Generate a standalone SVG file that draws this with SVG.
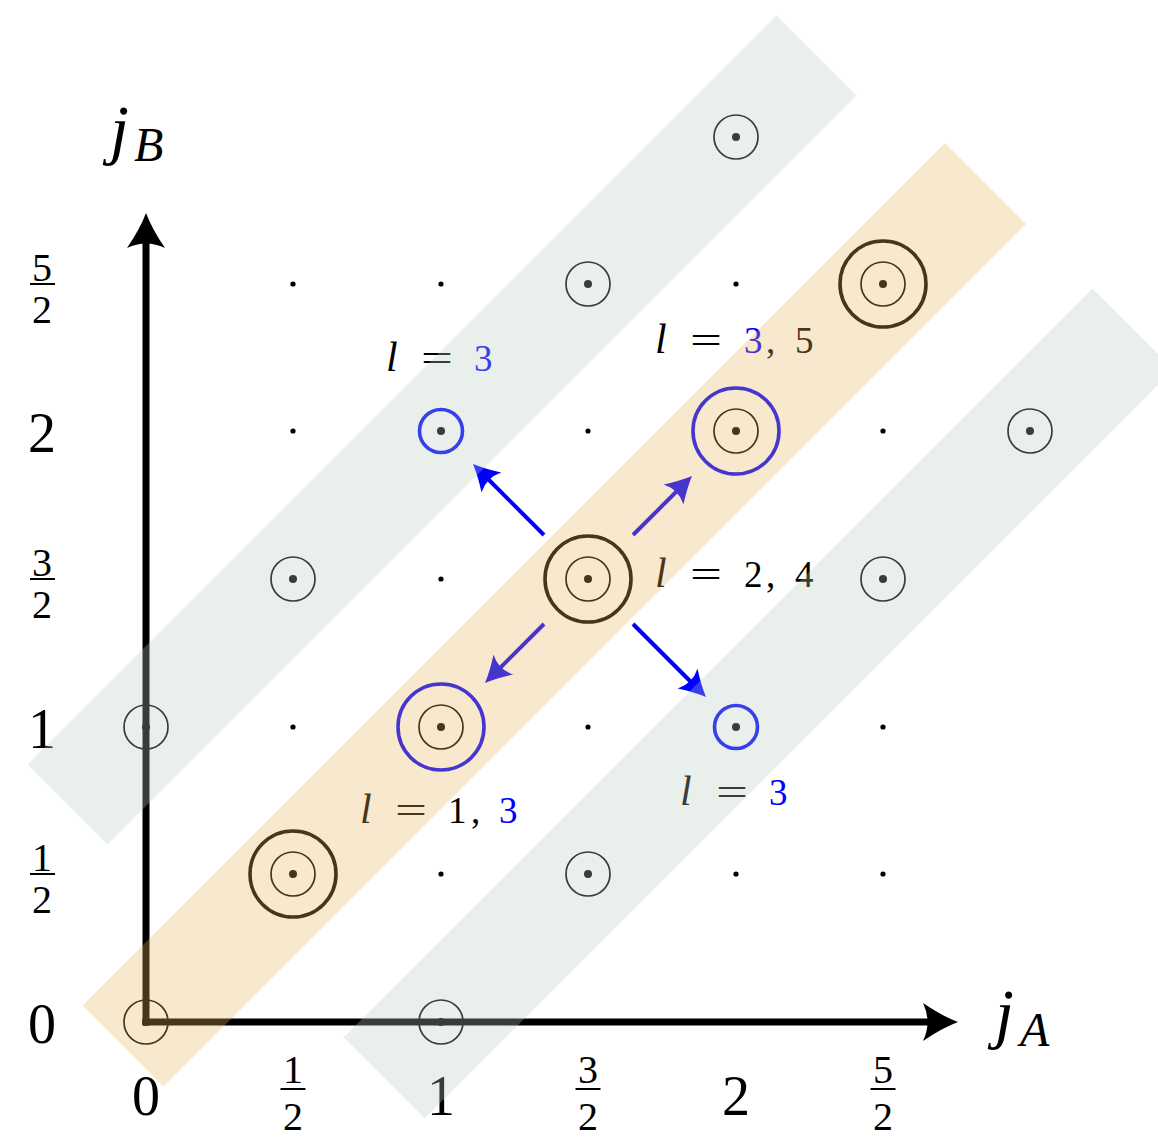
<svg xmlns="http://www.w3.org/2000/svg" width="1158" height="1139" viewBox="0 0 1158 1139">
<style>
.axis{stroke:#000;stroke-width:7;fill:none}
.dot{fill:#000}
.thin{fill:none;stroke:#000;stroke-width:1.7}
.big{fill:none;stroke:#000;stroke-width:3.6}
.bigb{fill:none;stroke:#0000ff;stroke-width:3.6}
.arr{stroke:#0000ff;stroke-width:4;fill:none}
.t{font-family:"Liberation Serif","Times New Roman",serif;fill:#000}
.it{font-style:italic}
.lbl{font-size:37px}
.ll{font-size:42px;font-style:italic}
.tick{font-size:56px}
.frac{font-size:40px}
.jj{font-size:68px;font-style:italic}
.sub{font-size:48px;font-style:italic}
.blue{fill:#0000ff}
.band-o{fill:rgb(231,178,88);fill-opacity:0.3}
.band-t{fill:rgb(182,205,192);fill-opacity:0.3}
</style>
<defs>
<marker id="ax" markerUnits="userSpaceOnUse" orient="auto" refX="0" refY="0" overflow="visible">
<path d="M20,0 Q4,-6 -15,-19 Q-6,0 -15,19 Q4,6 20,0 Z" fill="#000"/>
</marker>
<marker id="bl" markerUnits="userSpaceOnUse" orient="auto" refX="0" refY="0" overflow="visible">
<path d="M12,0 Q0,-5 -14,-14 Q-7,0 -14,14 Q0,5 12,0 Z" fill="#0000ff"/>
</marker>
</defs>

<g id="axes">
<line class="axis" x1="146" y1="1025.5" x2="146" y2="233" marker-end="url(#ax)"/>
<line class="axis" x1="142.5" y1="1022" x2="938" y2="1022" marker-end="url(#ax)"/>
</g>

<g id="dots">
<circle class="dot" cx="293" cy="284" r="2.6"/>
<circle class="dot" cx="441" cy="284" r="2.6"/>
<circle class="dot" cx="736" cy="284" r="2.6"/>
<circle class="dot" cx="293" cy="431" r="2.6"/>
<circle class="dot" cx="588" cy="431" r="2.6"/>
<circle class="dot" cx="883" cy="431" r="2.6"/>
<circle class="dot" cx="441" cy="579" r="2.6"/>
<circle class="dot" cx="293" cy="727" r="2.6"/>
<circle class="dot" cx="588" cy="727" r="2.6"/>
<circle class="dot" cx="883" cy="727" r="2.6"/>
<circle class="dot" cx="441" cy="874" r="2.6"/>
<circle class="dot" cx="736" cy="874" r="2.6"/>
<circle class="dot" cx="883" cy="874" r="2.6"/>
</g>

<g id="n-0-0"><circle class="thin" cx="146" cy="1022" r="22"/><circle class="dot" cx="146" cy="1022" r="4"/></g>
<g id="n-1-0"><circle class="thin" cx="441" cy="1022" r="22"/><circle class="dot" cx="441" cy="1022" r="4"/></g>
<g id="n-32-12"><circle class="thin" cx="588" cy="874" r="22"/><circle class="dot" cx="588" cy="874" r="4"/></g>
<g id="n-0-1"><circle class="thin" cx="146" cy="727" r="22"/><circle class="dot" cx="146" cy="727" r="4"/></g>
<g id="n-12-32"><circle class="thin" cx="293" cy="579" r="22"/><circle class="dot" cx="293" cy="579" r="4"/></g>
<g id="n-52-32"><circle class="thin" cx="883" cy="579" r="22"/><circle class="dot" cx="883" cy="579" r="4"/></g>
<g id="n-3-2"><circle class="thin" cx="1030" cy="431" r="22"/><circle class="dot" cx="1030" cy="431" r="4"/></g>
<g id="n-32-52"><circle class="thin" cx="588" cy="284" r="22"/><circle class="dot" cx="588" cy="284" r="4"/></g>
<g id="n-2-3"><circle class="thin" cx="736" cy="137" r="22"/><circle class="dot" cx="736" cy="137" r="4"/></g>

<g id="n-12-12"><circle class="big" cx="293" cy="874" r="43"/><circle class="thin" cx="293" cy="874" r="22"/><circle class="dot" cx="293" cy="874" r="4"/></g>
<g id="n-32-32"><circle class="big" cx="588" cy="579" r="43"/><circle class="thin" cx="588" cy="579" r="22"/><circle class="dot" cx="588" cy="579" r="4"/></g>
<g id="n-52-52"><circle class="big" cx="883" cy="284" r="43"/><circle class="thin" cx="883" cy="284" r="22"/><circle class="dot" cx="883" cy="284" r="4"/></g>

<g id="n-1-1"><circle class="bigb" cx="441" cy="727" r="43"/><circle class="thin" cx="441" cy="727" r="22"/><circle class="dot" cx="441" cy="727" r="4"/></g>
<g id="n-2-2"><circle class="bigb" cx="736" cy="431" r="43"/><circle class="thin" cx="736" cy="431" r="22"/><circle class="dot" cx="736" cy="431" r="4"/></g>
<g id="n-1-2"><circle class="bigb" cx="441" cy="431" r="21.5"/><circle class="dot" cx="441" cy="431" r="4"/></g>
<g id="n-2-1"><circle class="bigb" cx="736" cy="727" r="21.5"/><circle class="dot" cx="736" cy="727" r="4"/></g>

<g id="connectors">
<line class="arr" x1="544" y1="535" x2="481.5" y2="472.5" marker-end="url(#bl)"/>
<line class="arr" x1="633" y1="535" x2="683.5" y2="484.5" marker-end="url(#bl)"/>
<line class="arr" x1="544" y1="624" x2="493.5" y2="674.5" marker-end="url(#bl)"/>
<line class="arr" x1="633" y1="624" x2="697.5" y2="688.5" marker-end="url(#bl)"/>
</g>

<g id="labels">
<text class="t ll" x="386" y="371">l</text>
<text class="t lbl" x="421" y="371" textLength="32" lengthAdjust="spacingAndGlyphs">=</text>
<text class="t lbl blue" x="474" y="371">3</text>

<text class="t ll" x="655" y="353">l</text>
<text class="t lbl" x="690" y="353" textLength="32" lengthAdjust="spacingAndGlyphs">=</text>
<text class="t lbl blue" x="744" y="353">3</text>
<text class="t lbl" x="766" y="353">,</text>
<text class="t lbl" x="795" y="353">5</text>

<text class="t ll" x="655" y="587">l</text>
<text class="t lbl" x="690" y="587" textLength="32" lengthAdjust="spacingAndGlyphs">=</text>
<text class="t lbl" x="744" y="587">2</text>
<text class="t lbl" x="766" y="587">,</text>
<text class="t lbl" x="795" y="587">4</text>

<text class="t ll" x="360" y="823">l</text>
<text class="t lbl" x="395" y="823" textLength="32" lengthAdjust="spacingAndGlyphs">=</text>
<text class="t lbl" x="448" y="823">1</text>
<text class="t lbl" x="471" y="823">,</text>
<text class="t lbl blue" x="499" y="823">3</text>

<text class="t ll" x="680" y="805">l</text>
<text class="t lbl" x="716" y="805" textLength="32" lengthAdjust="spacingAndGlyphs">=</text>
<text class="t lbl blue" x="769" y="805">3</text>

<text class="t jj" x="110" y="152">j</text>
<text class="t sub" x="134" y="161">B</text>
<text class="t jj" x="995" y="1036">j</text>
<text class="t sub" x="1020" y="1046">A</text>
</g>

<g id="ticks-y" text-anchor="middle">
<text class="t frac" x="42" y="281">5</text>
<rect x="30" y="283" width="25" height="2"/>
<text class="t frac" x="42" y="323">2</text>
<text class="t tick" x="42" y="452">2</text>
<text class="t frac" x="42" y="576">3</text>
<rect x="30" y="578" width="25" height="2"/>
<text class="t frac" x="42" y="618">2</text>
<text class="t tick" x="42" y="748">1</text>
<text class="t frac" x="42" y="871">1</text>
<rect x="30" y="873" width="25" height="2"/>
<text class="t frac" x="42" y="913">2</text>
<text class="t tick" x="42" y="1043">0</text>
</g>

<g id="ticks-x" text-anchor="middle">
<text class="t tick" x="146" y="1115">0</text>
<text class="t frac" x="293" y="1083">1</text>
<rect x="280.5" y="1088" width="25" height="2"/>
<text class="t frac" x="293" y="1130">2</text>
<text class="t tick" x="441" y="1115">1</text>
<text class="t frac" x="588" y="1083">3</text>
<rect x="575.5" y="1088" width="25" height="2"/>
<text class="t frac" x="588" y="1130">2</text>
<text class="t tick" x="736" y="1115">2</text>
<text class="t frac" x="883" y="1083">5</text>
<rect x="870.5" y="1088" width="25" height="2"/>
<text class="t frac" x="883" y="1130">2</text>
</g>

<g id="bands">
<polygon class="band-t" points="27.5,764.5 107.5,844.5 856.5,95.5 776.5,15.5"/>
<polygon class="band-o" points="82.5,1005.5 163.5,1086.5 1026,224 945,143"/>
<polygon class="band-t" points="343.5,1037.5 424.5,1118.5 1173.5,369.5 1092.5,288.5"/>
</g>
</svg>
